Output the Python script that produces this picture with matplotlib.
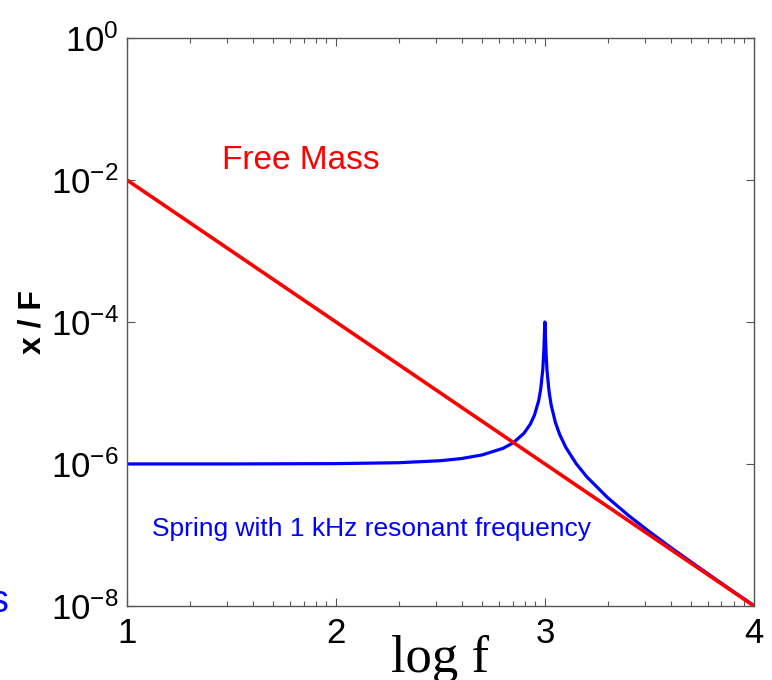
import math
import matplotlib
matplotlib.use("Agg")
import matplotlib.pyplot as plt
from matplotlib.ticker import FixedLocator, FuncFormatter, LogLocator, NullFormatter, NullLocator

# valores (log f, x/F)
log_f_masa = [1.0, 4.0]
xF_masa = [1e-2, 1e-8]

log_f_resorte = [1.0, 1.5, 2.0, 2.3, 2.5, 2.6, 2.7, 2.8, 2.85, 2.9, 2.93, 2.95,
                 2.97, 2.98, 2.99, 2.995, 2.998, 3.0, 3.002, 3.005, 3.01, 3.02,
                 3.03, 3.05, 3.07, 3.1, 3.15, 3.2, 3.3, 3.4, 3.5, 3.6, 3.7,
                 3.8, 3.9, 4.0]
xF_resorte = [1.00e-6, 1.00e-6, 1.01e-6, 1.04e-6, 1.11e-6, 1.19e-6, 1.34e-6,
              1.66e-6, 2.00e-6, 2.71e-6, 3.63e-6, 4.86e-6, 7.75e-6, 1.14e-5,
              2.17e-5, 4.03e-5, 7.39e-5, 1.0e-4, 7.32e-5, 3.94e-5, 2.07e-5,
              1.04e-5, 6.75e-6, 3.86e-6, 2.63e-6, 1.71e-6, 1.005e-6, 6.61e-7,
              3.35e-7, 1.88e-7, 1.11e-7, 6.73e-8, 4.15e-8, 2.58e-8, 1.61e-8,
              1.01e-8]

etiquetas_x = ["1", "2", "3", "4"]
ticks_y = [1e0, 1e-2, 1e-4, 1e-6, 1e-8]

plt.rcParams["font.family"] = ["Liberation Sans", "DejaVu Sans"]
plt.rcParams["mathtext.fontset"] = "custom"
plt.rcParams["mathtext.rm"] = "Liberation Sans"
plt.rcParams["mathtext.default"] = "regular"

fig = plt.figure(figsize=(7.72, 6.8), dpi=100)
ax = fig.add_axes([0.1645, 0.109, 0.812, 0.835])

f_resorte = [10 ** v for v in log_f_resorte]
f_masa = [10 ** v for v in log_f_masa]
ax.plot(f_resorte, xF_resorte, color="#0000ff", lw=2.3, solid_joinstyle="round")
ax.plot(f_masa, xF_masa, color="#ff0000", lw=2.6)

ax.set_xscale("log")
ax.set_yscale("log")
ax.set_xlim(10, 1e4)
ax.set_ylim(1e-8, 1e0)

ax.xaxis.set_major_locator(FixedLocator([10, 100, 1000, 10000]))
ax.xaxis.set_major_formatter(FuncFormatter(lambda v, p: etiquetas_x[p] if p is not None and p < 4 else ""))
ax.xaxis.set_minor_locator(LogLocator(base=10, subs=range(2, 10)))
ax.xaxis.set_minor_formatter(NullFormatter())
ax.yaxis.set_major_locator(FixedLocator(ticks_y))
ax.yaxis.set_minor_locator(NullLocator())
ax.yaxis.set_major_formatter(FuncFormatter(lambda v, p: r"$10^{%d}$" % round(math.log10(v))))

for s in ax.spines.values():
    s.set_color("#555555")
    s.set_linewidth(1.0)
ax.tick_params(which="both", direction="in", top=True, right=True, colors="#555555",
               labelcolor="black", labelsize=25)
ax.tick_params(which="major", length=6, width=0.8)
ax.tick_params(which="minor", length=3.5, width=0.8)
ax.tick_params(axis="x", pad=8)
ax.tick_params(axis="y", pad=6)

ax.set_ylabel("x / F", fontsize=23, fontweight="bold", labelpad=2)
ax.set_xlabel("log f", family=["Liberation Serif"], fontsize=38, labelpad=-11)

ax.text(0.151, 0.784, "Free Mass", transform=ax.transAxes, color="#ff0000",
        fontsize=24, va="center", ha="left")
ax.text(0.04, 0.136, "Spring with 1 kHz resonant frequency", transform=ax.transAxes,
        color="#0000ff", fontsize=19, va="center", ha="left")

# letra recortada del borde izquierdo
fig.text(0.011, 0.115, "s", color="#0000ff", fontsize=27, ha="right", va="center")

fig.savefig("out.png", dpi=100)
